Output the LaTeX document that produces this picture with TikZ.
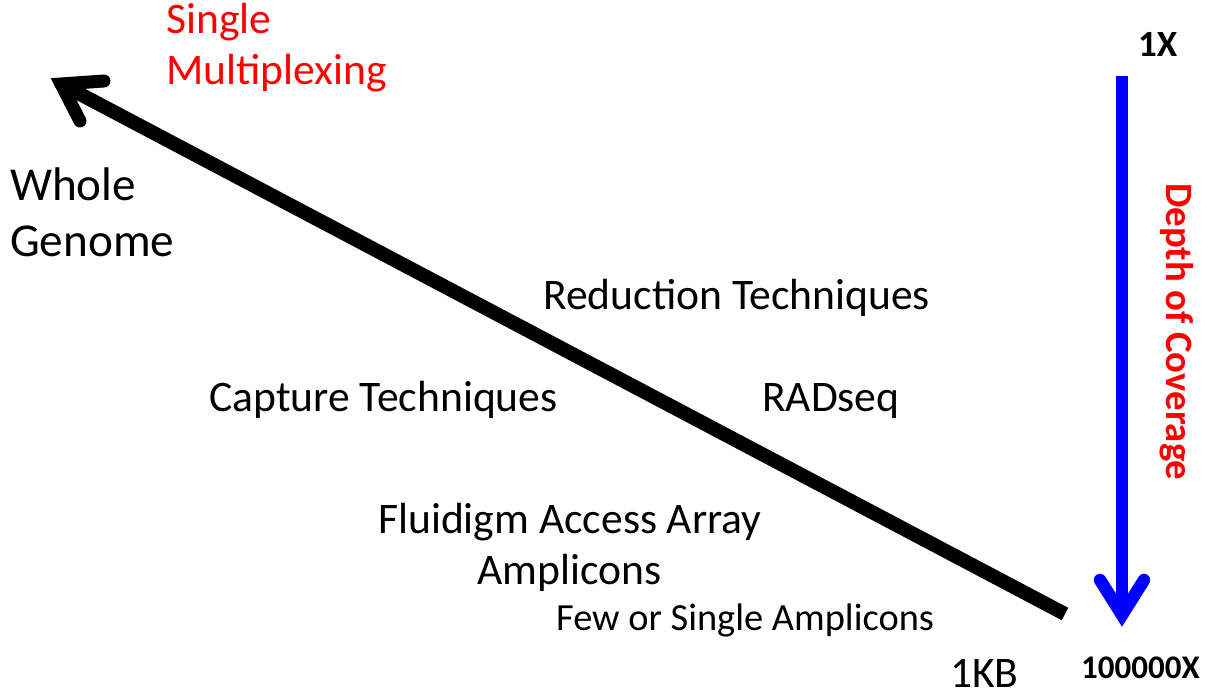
\documentclass[tikz,border=0pt]{standalone}
\usepackage{fontspec}
\setmainfont{Carlito}
\begin{document}
\begin{tikzpicture}[x=1pt,y=-1pt,
  lbl/.style={anchor=base west,inner sep=0pt,font=\fontsize{43.6}{52}\selectfont},
  big/.style={lbl,font=\fontsize{47.2}{56}\selectfont},
  small/.style={lbl,font=\fontsize{38.4}{46}\selectfont},
  boldlbl/.style={lbl,font=\fontsize{37}{44}\selectfont\bfseries},
  redtext/.style={text={rgb,255:red,255;green,0;blue,0}},
  shaft/.style={line width=14pt,line cap=butt},
  head/.style={line width=13pt,line cap=round,line join=miter},
]
\useasboundingbox (0,0) rectangle (1209,692);
% black diagonal arrow
\coordinate (btail) at (1065,614);
\coordinate (bvertex) at (61,84);
\coordinate (barmA) at (104,81);
\coordinate (barmB) at (80,121);
\draw[shaft,black] (btail) -- (bvertex);
\draw[head,black] (barmA) -- (bvertex) -- (barmB);
% blue vertical arrow
\coordinate (utail) at (1122,76);
\coordinate (uvertex) at (1122,615);
\coordinate (uarmA) at (1100,580);
\coordinate (uarmB) at (1144,580);
\draw[shaft,line width=12pt,blue] (utail) -- (uvertex);
\draw[head,line width=12.5pt,blue] (uarmA) -- (uvertex) -- (uarmB);
% labels
\node[lbl,redtext] (single) at (166,34) {Single};
\node[lbl,redtext] (multi) at (166,85) {Multiplexing};
\node[big] (whole) at (10,201) {Whole};
\node[big] (genome) at (10,257) {Genome};
\node[lbl] (reduction) at (543,310) {Reduction Techniques};
\node[lbl] (capture) at (209,411) {Capture Techniques};
\node[lbl] (radseq) at (762,411) {RADseq};
\node[lbl] (fluidigm) at (378,533) {Fluidigm Access Array};
\node[lbl] (amplicons) at (477,584) {Amplicons};
\node[small] (few) at (556,630) {Few or Single Amplicons};
\node[lbl] (kb) at (950,687) {1KB};
\node[boldlbl] (onex) at (1138,57) {1X};
\node[boldlbl,font=\fontsize{33}{40}\selectfont\bfseries] (bigx) at (1081,678) {100000X};
\node[boldlbl,font=\fontsize{38.7}{46}\selectfont\bfseries,redtext,rotate=-90] (depth) at (1166,183) {Depth of Coverage};
\end{tikzpicture}
\end{document}
